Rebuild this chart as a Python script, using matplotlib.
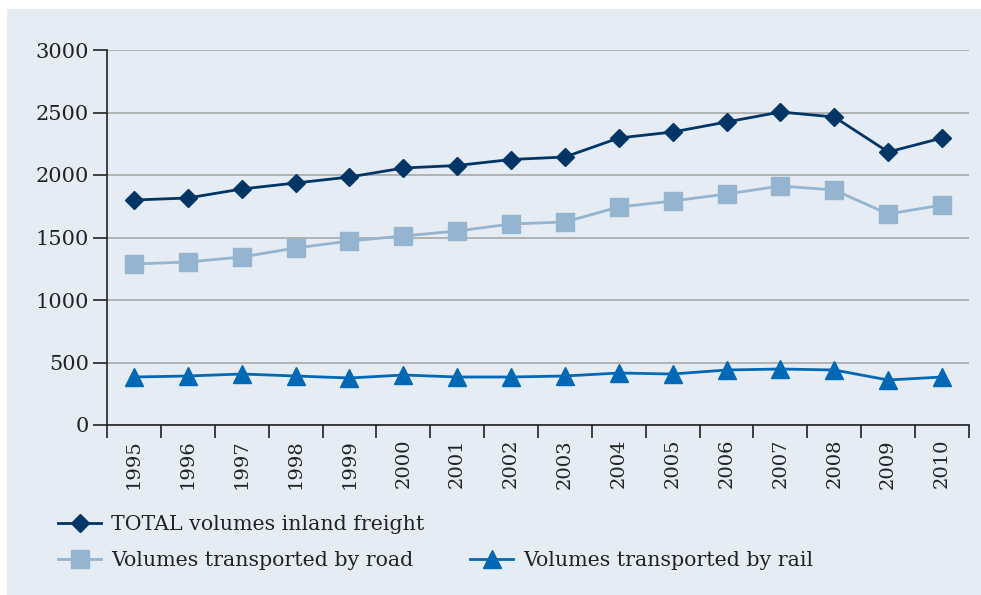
import matplotlib.pyplot as plt
from matplotlib.patches import Rectangle
from matplotlib.lines import Line2D

years = [str(y) for y in range(1995, 2011)]
total = [1800, 1816, 1888, 1936, 1984, 2056, 2076, 2124, 2144, 2296, 2344, 2424, 2504, 2464, 2184, 2296]
road = [1288, 1304, 1344, 1416, 1472, 1512, 1552, 1608, 1624, 1744, 1792, 1848, 1912, 1880, 1688, 1760]
rail = [384, 392, 408, 392, 376, 400, 384, 384, 392, 416, 408, 440, 448, 440, 360, 384]

bg = "#e5ecf3"
c_total = "#003566"
c_road = "#94b4cf"
c_rail = "#0068b4"

plt.rcParams['font.family'] = ['DejaVu Serif']

fig = plt.figure(figsize=(9.81, 5.95), dpi=100)
fig.patches.append(Rectangle((7 / 981, 0), 1, 1 - 9 / 595, transform=fig.transFigure,
                             facecolor=bg, edgecolor='none', zorder=-10))

ax = fig.add_axes([107 / 981, 1 - 425 / 595, (969 - 107) / 981, (425 - 50) / 595])
ax.patch.set_alpha(0)

x = list(range(len(years)))
l1, = ax.plot(x, total, color=c_total, lw=2, marker='D', ms=9.5, label="TOTAL volumes inland freight")
l2, = ax.plot(x, road, color=c_road, lw=2, marker='s', ms=13.5, label="Volumes transported by road")
l3, = ax.plot(x, rail, color=c_rail, lw=2, marker='^', ms=13.5, label="Volumes transported by rail")

ax.set_xlim(-0.5, len(years) - 0.5)
ax.set_ylim(0, 3000)
ax.set_yticks(range(0, 3001, 500))
ax.yaxis.grid(True, color='#a8a8a8', lw=1.2)
ax.set_axisbelow(True)

ax.set_xticks(x)
ax.set_xticklabels(years, rotation=90, fontsize=14, color='#222222')
ax.set_xticks([i - 0.5 for i in range(len(years) + 1)], minor=True)
ax.tick_params(axis='x', which='major', length=0, pad=10)
ax.tick_params(axis='x', which='minor', length=9, width=1.2, color='#222222')
ax.tick_params(axis='y', length=10, width=1.2, color='#222222', labelsize=15, labelcolor='#222222', pad=3)

for s in ['top', 'right']:
    ax.spines[s].set_visible(False)
for s in ['left', 'bottom']:
    ax.spines[s].set_color('#222222')
    ax.spines[s].set_linewidth(1.2)

blank = Line2D([], [], color='none')
fig.legend([l1, l2, blank, l3], [l1.get_label(), l2.get_label(), "", l3.get_label()],
           ncol=2, loc='upper left', bbox_to_anchor=(58 / 981, 1 - 515 / 595),
           frameon=False, fontsize=14.8, handlelength=2.1, handletextpad=0.5,
           borderpad=0, borderaxespad=0,
           columnspacing=2.2, labelspacing=0.85, labelcolor='#222222')

fig.savefig("out.png", dpi=100)
